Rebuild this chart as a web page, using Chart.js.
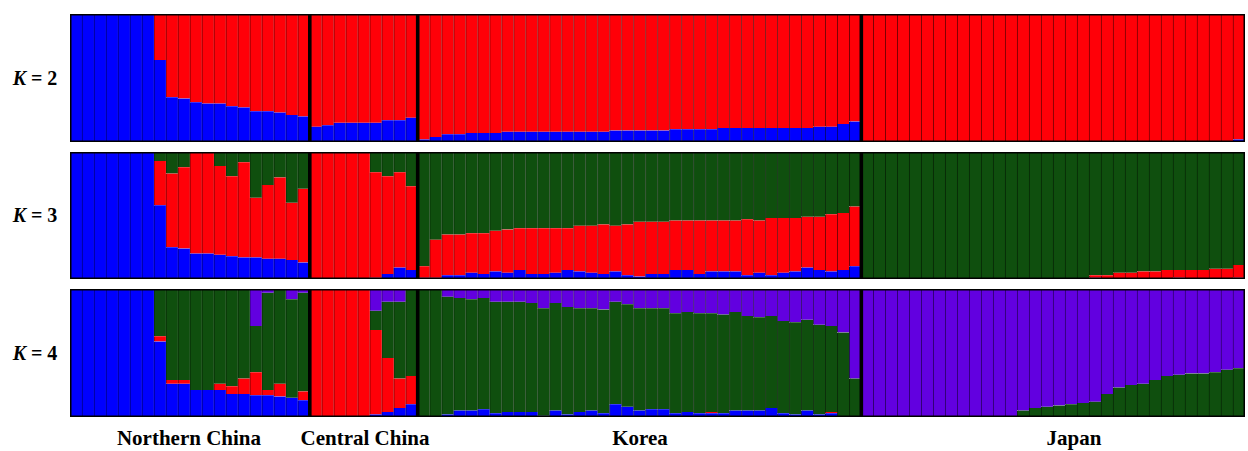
<!DOCTYPE html>
<html lang="en">
<head>
  <meta charset="UTF-8">
  <title>STRUCTURE K = 2 to 4</title>
  <script src="https://cdn.jsdelivr.net/npm/chart.js"></script>
  <style>
    body { margin: 0; background: #fff; width: 1248px; height: 451px; position: relative; overflow: hidden; }
    canvas { position: absolute; left: 70px; }
    .klab { position: absolute; left: 0; width: 70px; text-align: center; font: bold 20px "Liberation Serif", "Times New Roman", serif; }
    .klab i { font-style: italic; }
    .glab { position: absolute; top: 426px; transform: translateX(-50%); white-space: nowrap; font: bold 21px "Liberation Serif", "Times New Roman", serif; }
  </style>
</head>
<body>
  <div class="klab" style="top: 67px;"><i>K</i> = 2</div>
  <div class="klab" style="top: 204px;"><i>K</i> = 3</div>
  <div class="klab" style="top: 342px;"><i>K</i> = 4</div>
  <canvas id="k2" width="1175" height="128" style="top: 14px;"></canvas>
  <canvas id="k3" width="1175" height="127" style="top: 152px;"></canvas>
  <canvas id="k4" width="1175" height="128" style="top: 289px;"></canvas>
  <div class="glab" style="left: 189px;">Northern China</div>
  <div class="glab" style="left: 365px;">Central China</div>
  <div class="glab" style="left: 640px;">Korea</div>
  <div class="glab" style="left: 1074px;">Japan</div>

  <script>
    const groups = ['Northern China', 'Central China', 'Korea', 'Japan'];
    const groupSizes = [20, 9, 37, 32];

    // membership coefficients, one value per individual
    // order: Northern China | Central China | Korea | Japan
    const k2Blue = [1, 1, 1, 1, 1, 1, 1, .64, .35, .34, .31, .30, .30, .28, .27, .24, .24, .23, .21, .20,
      .12, .13, .15, .15, .15, .15, .17, .17, .19,
      .02, .04, .06, .06, .07, .07, .07, .08, .08, .08, .08, .08, .08, .08, .08, .08, .09, .09, .09, .09, .09,
      .10, .10, .10, .10, .11, .11, .11, .11, .11, .11, .11, .11, .12, .12, .14, .16,
      0, 0, 0, 0, 0, 0, 0, 0, 0, 0, 0, 0, 0, 0, 0, 0, 0, 0, 0, 0, 0, 0, 0, 0, 0, 0, 0, 0, 0, 0, 0, .02];
    const k2Red = [0, 0, 0, 0, 0, 0, 0, .36, .65, .66, .69, .70, .70, .72, .73, .76, .76, .77, .79, .80,
      .88, .87, .85, .85, .85, .85, .83, .83, .81,
      .98, .96, .94, .94, .93, .93, .93, .92, .92, .92, .92, .92, .92, .92, .92, .92, .91, .91, .91, .91, .91,
      .90, .90, .90, .90, .89, .89, .89, .89, .89, .89, .89, .89, .88, .88, .86, .84,
      1, 1, 1, 1, 1, 1, 1, 1, 1, 1, 1, 1, 1, 1, 1, 1, 1, 1, 1, 1, 1, 1, 1, 1, 1, 1, 1, 1, 1, 1, 1, .98];

    const k3Blue = [1, 1, 1, 1, 1, 1, 1, .58, .25, .24, .20, .20, .19, .18, .17, .17, .16, .16, .15, .13,
      0, 0, 0, 0, 0, .01, .04, .09, .07,
      .01, .01, .03, .03, .05, .04, .06, .05, .07, .04, .04, .05, .07, .06, .05, .04, .06, .03, .02, .04, .04,
      .07, .07, .04, .06, .06, .06, .03, .05, .03, .05, .06, .09, .07, .06, .07, .10,
      0, 0, 0, 0, 0, 0, 0, 0, 0, 0, 0, 0, 0, 0, 0, 0, 0, 0, 0, .01, 0, 0, 0, 0, 0, 0, .01, 0, 0, 0, 0, .01];
    const k3Red = [0, 0, 0, 0, 0, 0, 0, .35, .58, .64, .80, .80, .70, .63, .75, .47, .58, .64, .45, .58,
      1, 1, 1, 1, 1, .83, .77, .75, .66,
      .09, .30, .32, .32, .31, .32, .32, .34, .33, .36, .36, .35, .33, .36, .37, .39, .36, .40, .43, .41, .41,
      .39, .39, .42, .40, .40, .40, .44, .41, .45, .43, .42, .40, .42, .45, .45, .47,
      0, 0, 0, 0, 0, 0, 0, 0, 0, 0, 0, 0, 0, 0, 0, 0, 0, 0, 0, .02, .03, .05, .05, .06, .06, .07, .06, .07, .07, .08, .08, .10];
    const k3Green = [0, 0, 0, 0, 0, 0, 0, .07, .17, .12, 0, 0, .11, .19, .08, .36, .26, .20, .40, .29,
      0, 0, 0, 0, 0, .16, .19, .16, .27,
      .90, .69, .65, .65, .64, .64, .62, .61, .60, .60, .60, .60, .60, .58, .58, .57, .58, .57, .55, .55, .55,
      .54, .54, .54, .54, .54, .54, .53, .54, .52, .52, .52, .51, .51, .49, .48, .43,
      1, 1, 1, 1, 1, 1, 1, 1, 1, 1, 1, 1, 1, 1, 1, 1, 1, 1, 1, .97, .97, .95, .95, .94, .94, .93, .93, .93, .93, .92, .92, .89];

    const k4Blue = [1, 1, 1, 1, 1, 1, 1, .59, .26, .26, .21, .21, .21, .18, .18, .17, .17, .16, .15, .13,
      0, 0, 0, 0, 0, .02, .04, .07, .10,
      0, 0, .02, .05, .05, .06, .03, .04, .04, .04, .01, .05, .02, .04, .05, .03, .10, .08, .05, .06, .06,
      .03, .04, .03, .03, .03, .05, .05, .05, .07, .03, .02, .05, .02, .03, 0, 0,
      0, 0, 0, 0, 0, 0, 0, 0, 0, 0, 0, 0, 0, 0, 0, 0, 0, 0, 0, 0, 0, 0, 0, 0, 0, 0, 0, 0, 0, 0, 0, 0];
    const k4Red = [0, 0, 0, 0, 0, 0, 0, .04, .03, .03, 0, 0, .05, .06, .12, .18, .04, .10, 0, .07,
      1, 1, 1, 1, 1, .66, .42, .23, .22,
      0, 0, 0, 0, 0, 0, 0, 0, 0, 0, 0, 0, 0, 0, 0, 0, 0, 0, 0, 0, 0,
      0, 0, 0, .01, 0, 0, 0, 0, 0, 0, 0, 0, 0, .01, 0, 0,
      0, 0, 0, 0, 0, 0, 0, 0, 0, 0, 0, 0, 0, 0, 0, 0, 0, 0, 0, 0, 0, 0, 0, 0, 0, 0, 0, 0, 0, 0, 0, 0];
    const k4Green = [0, 0, 0, 0, 0, 0, 0, .37, .71, .71, .79, .79, .74, .76, .70, .36, .76, .74, .77, .77,
      0, 0, 0, 0, 0, .15, .44, .60, .68,
      1, 1, .92, .88, .87, .87, .87, .86, .86, .85, .84, .84, .84, .81, .80, .81, .80, .80, .80, .79, .79,
      .78, .78, .78, .77, .77, .77, .74, .73, .72, .72, .72, .71, .70, .67, .66, .30,
      0, 0, 0, 0, 0, 0, 0, 0, 0, 0, 0, 0, 0, .05, .07, .08, .09, .10, .11, .12, .18, .23, .25, .26, .29, .32, .33, .34, .34, .35, .37, .38];
    const k4Purple = [0, 0, 0, 0, 0, 0, 0, 0, 0, 0, 0, 0, 0, 0, 0, .29, .03, 0, .08, .03,
      0, 0, 0, 0, 0, .17, .10, .10, 0,
      0, 0, .06, .07, .08, .07, .10, .10, .10, .11, .15, .11, .14, .15, .15, .16, .10, .12, .15, .15, .15,
      .19, .18, .19, .19, .20, .18, .21, .22, .21, .25, .26, .24, .28, .29, .34, .70,
      1, 1, 1, 1, 1, 1, 1, 1, 1, 1, 1, 1, 1, .95, .93, .92, .91, .90, .89, .88, .82, .77, .75, .74, .71, .68, .67, .66, .66, .65, .63, .62];

    const colors = {
      blue: ['#0000ff', '#00007a'],
      red: ['#ff0008', '#7a0004'],
      green: ['#0f4f0e', '#082a07'],
      purple: ['#6200e0', '#300070']
    };

    const individuals = [];
    groups.forEach((g, gi) => {
      for (let i = 1; i <= groupSizes[gi]; i++) individuals.push(g + ' ' + i);
    });

    // black lines between populations + frame
    const structurePlugin = {
      id: 'structure',
      afterDatasetsDraw(chart) {
        const ctx = chart.ctx;
        const area = chart.chartArea;
        const x = chart.scales.x;
        ctx.save();
        ctx.strokeStyle = '#000';
        ctx.lineWidth = 3.6;
        let idx = 0;
        for (let gi = 0; gi < groupSizes.length - 1; gi++) {
          idx += groupSizes[gi];
          const px = (x.getPixelForValue(idx - 1) + x.getPixelForValue(idx)) / 2;
          ctx.beginPath();
          ctx.moveTo(px, area.top);
          ctx.lineTo(px, area.bottom);
          ctx.stroke();
        }
        ctx.lineWidth = 1.5;
        ctx.strokeRect(area.left + 0.75, area.top + 0.75, area.right - area.left - 1.5, area.bottom - area.top - 1.5);
        ctx.restore();
      }
    };

    function ds(values, c) {
      return {
        data: values,
        backgroundColor: colors[c][0],
        borderColor: colors[c][1],
        borderWidth: { left: 1, right: 0, top: 0, bottom: 0 },
        borderSkipped: false,
        categoryPercentage: 1.0,
        barPercentage: 1.0
      };
    }

    function makePanel(id, datasets) {
      new Chart(document.getElementById(id), {
        type: 'bar',
        data: { labels: individuals, datasets: datasets },
        options: {
          responsive: false,
          animation: false,
          layout: { padding: 0 },
          plugins: { legend: { display: false }, tooltip: { enabled: false } },
          scales: {
            x: { stacked: true, display: false },
            y: { stacked: true, display: false, min: 0, max: 1 }
          }
        },
        plugins: [structurePlugin]
      });
    }

    makePanel('k2', [ds(k2Blue, 'blue'), ds(k2Red, 'red')]);
    makePanel('k3', [ds(k3Blue, 'blue'), ds(k3Red, 'red'), ds(k3Green, 'green')]);
    makePanel('k4', [ds(k4Blue, 'blue'), ds(k4Red, 'red'), ds(k4Green, 'green'), ds(k4Purple, 'purple')]);
  </script>
</body>
</html>
